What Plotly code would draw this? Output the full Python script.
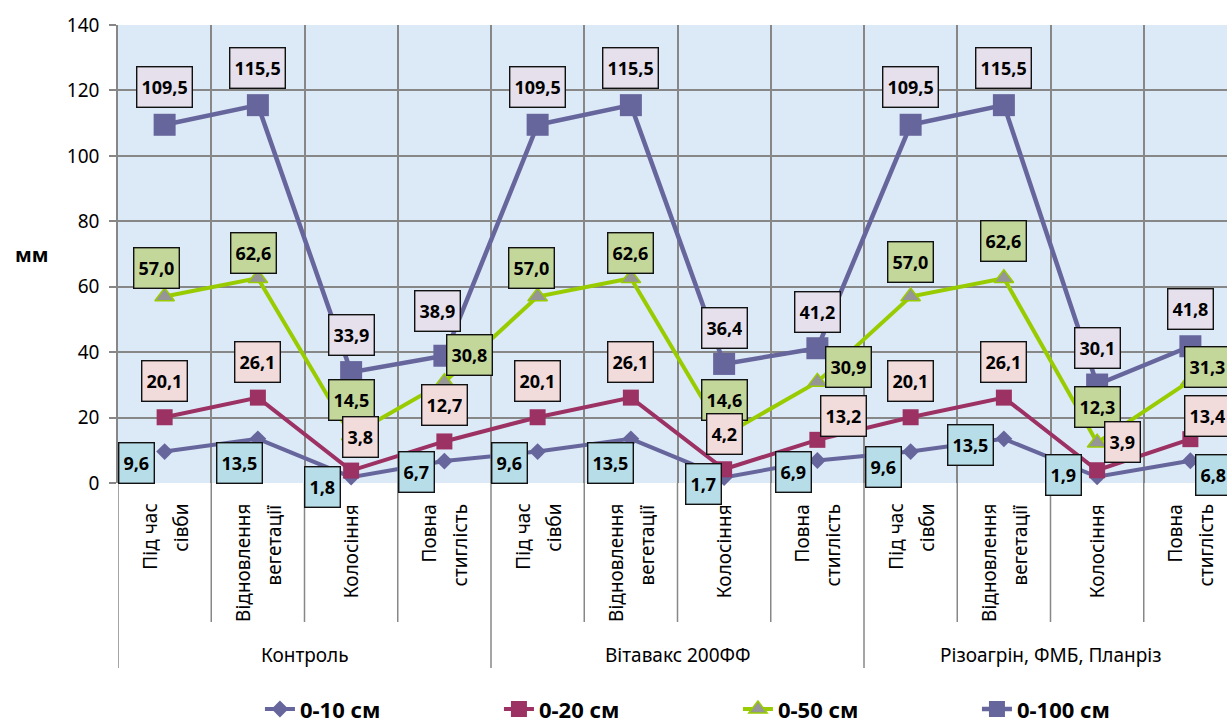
import plotly.graph_objects as go

# Stage categories (x positions 0..11), grouped by treatment
stages = ["Під час<br>сівби", "Відновлення<br>вегетації", "Колосіння", "Повна<br>стиглість"]
groups = ["Контроль", "Вітавакс 200ФФ", "Різоагрін, ФМБ, Планріз"]

# Productive moisture reserves, mm, by soil layer
depth_0_10 = [9.6, 13.5, 1.8, 6.7, 9.6, 13.5, 1.7, 6.9, 9.6, 13.5, 1.9, 6.8]
depth_0_20 = [20.1, 26.1, 3.8, 12.7, 20.1, 26.1, 4.2, 13.2, 20.1, 26.1, 3.9, 13.4]
depth_0_50 = [57.0, 62.6, 14.5, 30.8, 57.0, 62.6, 14.6, 30.9, 57.0, 62.6, 12.3, 31.3]
depth_0_100 = [109.5, 115.5, 33.9, 38.9, 109.5, 115.5, 36.4, 41.2, 109.5, 115.5, 30.1, 41.8]

series_names = ["0-10 см", "0-20 см", "0-50 см", "0-100 см"]
y_ticks = [0, 20, 40, 60, 80, 100, 120, 140]

FONT = "Noto Sans, Open Sans, DejaVu Sans, sans-serif"
GRID = "#878787"

x = list(range(len(depth_0_10)))

# label placement offsets (px) around each point
off_10 = [(-28, -11), (-18, -24), (-29, -10), (-28, -11), (-28, -11), (-20, -24),
          (-21, -7), (-24, -12), (-27, -15), (-33, -6), (-34, 2), (23, -14)]
off_20 = [(0, 36), (0, 36), (9, 34), (0, 36), (0, 36), (0, 36),
          (0, 35), (26, 24), (0, 36), (0, 36), (25, 28), (17, 23)]
off_50 = [(-8, 29), (-4, 25), (0, 36), (25, 27), (-6, 29), (0, 25),
          (0, 35), (31, 15), (0, 35), (0, 37), (0, 36), (17, 14)]
off_100 = [(0, 38), (0, 37), (0, 37), (-7, 45), (0, 38), (0, 37),
           (0, 36), (0, 36), (0, 38), (0, 37), (0, 37), (0, 37)]

styles = [
    dict(name=series_names[0], y=depth_0_10, line=dict(color="#66669c", width=4),
         marker=dict(symbol="diamond", size=13, color="#66669c", line=dict(width=0))),
    dict(name=series_names[1], y=depth_0_20, line=dict(color="#9c3163", width=4),
         marker=dict(symbol="square", size=16, color="#9c3163", line=dict(width=0))),
    dict(name=series_names[2], y=depth_0_50, line=dict(color="#99cc00", width=4),
         marker=dict(symbol="triangle-up", size=17, color="#969696",
                     line=dict(width=1.5, color="#99cc00"))),
    dict(name=series_names[3], y=depth_0_100, line=dict(color="#66669c", width=4.5),
         marker=dict(symbol="square", size=22, color="#66669c", line=dict(width=0))),
]

fig = go.Figure()
for s in styles:
    fig.add_trace(go.Scatter(x=x, mode="lines+markers", cliponaxis=False, **s))

annotations = []


def fmt(v):
    return f"{v:.1f}".replace(".", ",")


# data labels (drawn in this order so pink boxes sit on top of green ones)
label_sets = [
    (depth_0_100, off_100, "#e5e0ec"),
    (depth_0_50, off_50, "#c4d79b"),
    (depth_0_20, off_20, "#f2dcdb"),
    (depth_0_10, off_10, "#b7dee8"),
]
for values, offs, fill in label_sets:
    for i, v in enumerate(values):
        dx, dy = offs[i]
        annotations.append(dict(
            x=i, y=v, xref="x", yref="y", text=fmt(v), showarrow=False,
            xshift=dx, yshift=dy, height=31, borderpad=4,
            bgcolor=fill, bordercolor="#111111", borderwidth=1.4,
            font=dict(family=FONT, size=18, color="#000000", weight="bold"),
        ))

# stage labels, rotated, one annotation per text line
PLOT_H = 458.0


def paper_y(px_below_axis):
    return -px_below_axis / PLOT_H


for g in range(len(groups)):
    for k, st in enumerate(stages):
        i = g * len(stages) + k
        lines = st.split("<br>")
        shifts = [0] if len(lines) == 1 else [-15, 16]
        for line, sh in zip(lines, shifts):
            annotations.append(dict(
                x=i, y=paper_y(19), xref="x", yref="paper", text=line,
                showarrow=False, textangle=-90, xanchor="center", yanchor="top",
                xshift=sh, font=dict(family=FONT, size=19, color="#000000"),
            ))
    annotations.append(dict(
        x=g * len(stages) + 1.5, y=paper_y(172), xref="x", yref="paper",
        text=groups[g], showarrow=False, xanchor="center", yanchor="middle",
        font=dict(family=FONT, size=19, color="#000000"),
    ))

# axis title
annotations.append(dict(
    x=-0.078, y=0.498, xref="paper", yref="paper", text="мм", showarrow=False,
    xanchor="center", yanchor="middle",
    font=dict(family=FONT, size=20, color="#000000", weight="bold"),
))

# category separators below the axis
shapes = []
n = len(x)
for b in range(n + 1):
    bx = b - 0.5
    long_line = (b % len(stages) == 0)
    shapes.append(dict(
        type="line", xref="x", yref="paper", x0=bx, x1=bx, y0=0,
        y1=paper_y(185 if long_line else 139),
        line=dict(color=GRID, width=1.5), layer="below",
    ))

fig.update_layout(
    width=1227, height=724,
    margin=dict(l=118, r=0, t=25, b=241, autoexpand=False),
    paper_bgcolor="#ffffff",
    plot_bgcolor="#dce9f7",
    font=dict(family=FONT, color="#000000"),
    showlegend=True,
    legend=dict(
        orientation="h", x=0.128, y=-0.494, xanchor="left", yanchor="middle",
        font=dict(family=FONT, size=22, color="#000000", weight="bold"),
        entrywidth=194, entrywidthmode="pixels", bgcolor="rgba(0,0,0,0)",
    ),
    annotations=annotations,
    shapes=shapes,
    xaxis=dict(
        range=[-0.5, -0.5 + 1109 / 93.25], tickmode="array",
        tickvals=[b - 0.5 for b in range(n + 1)], showticklabels=False,
        showgrid=True, gridcolor=GRID, gridwidth=1.5, zeroline=False,
        showline=False, ticks="",
    ),
    yaxis=dict(
        range=[0, 140], tickmode="array", tickvals=y_ticks,
        ticktext=[str(t) for t in y_ticks],
        showgrid=True, gridcolor=GRID, gridwidth=1.5, zeroline=False,
        showline=True, linecolor=GRID, linewidth=1.5,
        ticks="outside", ticklen=7, tickcolor=GRID, tickwidth=1.5,
        ticklabelstandoff=6,
        tickfont=dict(family=FONT, size=19, color="#000000"),
    ),
)

fig.write_html("out.html")
